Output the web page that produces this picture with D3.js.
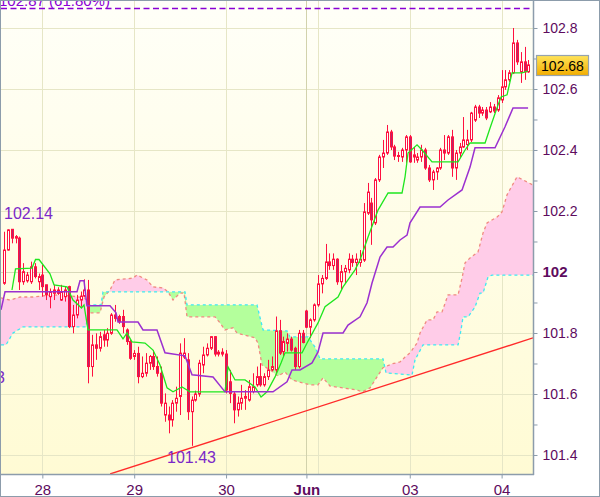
<!DOCTYPE html>
<html><head><meta charset="utf-8">
<script src="https://cdn.jsdelivr.net/npm/d3@7"></script>
<style>body{margin:0;background:#fff}svg{display:block;font-family:"Liberation Sans",Arial,sans-serif}</style>
</head><body><svg id="c" width="600" height="497"></svg>
<script>
// ---- data (hourly candles, bar index 0..137) ----
const opens = [101.963,102.072,102.140,102.111,102.111,101.968,101.971,101.968,102.017,101.968,101.990,101.958,101.919,101.930,101.941,101.908,101.919,101.952,101.821,101.859,101.908,101.921,101.941,101.690,101.761,101.750,101.794,101.777,101.799,101.859,101.854,101.854,101.810,101.772,101.723,101.733,101.657,101.668,101.701,101.723,101.690,101.668,101.531,101.531,101.515,101.570,101.592,101.721,101.712,101.542,101.580,101.600,101.695,101.728,101.750,101.788,101.731,101.737,101.731,101.640,101.600,101.548,101.570,101.586,101.580,101.608,101.630,101.657,101.630,101.657,101.679,101.679,101.807,101.739,101.766,101.780,101.750,101.690,101.799,101.872,101.819,101.843,101.892,101.961,101.979,102.033,102.021,102.042,101.968,102.001,102.007,102.042,102.031,102.031,102.039,102.193,102.226,102.161,102.302,102.377,102.390,102.459,102.410,102.382,102.377,102.400,102.443,102.377,102.367,102.377,102.400,102.341,102.302,102.328,102.341,102.400,102.390,102.443,102.341,102.390,102.410,102.418,102.433,102.498,102.541,102.521,102.531,102.525,102.541,102.531,102.564,102.607,102.630,102.653,102.751,102.656,102.689,102.656];
const highs = [102.132,102.140,102.140,102.121,102.116,102.029,102.000,102.034,102.029,101.995,102.023,101.958,101.946,101.958,101.950,101.958,101.952,101.955,101.892,101.925,101.936,101.976,101.974,101.794,101.799,101.804,101.810,101.816,101.865,101.892,101.860,101.876,101.815,101.777,101.744,101.755,101.723,101.734,101.728,101.744,101.723,101.690,101.602,101.559,101.580,101.624,101.766,101.783,101.734,101.592,101.611,101.712,101.755,101.766,101.790,101.790,101.744,101.750,101.744,101.679,101.608,101.592,101.630,101.613,101.646,101.668,101.690,101.701,101.668,101.712,101.723,101.854,101.843,101.788,101.799,101.788,101.755,101.810,101.810,101.876,101.848,101.897,101.990,101.990,102.092,102.061,102.061,102.045,102.023,102.023,102.061,102.056,102.061,102.072,102.226,102.292,102.243,102.308,102.384,102.433,102.482,102.466,102.417,102.394,102.407,102.449,102.449,102.410,102.390,102.417,102.407,102.351,102.335,102.344,102.407,102.449,102.449,102.466,102.400,102.423,102.508,102.466,102.525,102.548,102.548,102.541,102.541,102.557,102.551,102.580,102.662,102.662,102.662,102.800,102.761,102.721,102.738,102.695];
const lows = [101.958,102.070,102.094,102.094,101.941,101.958,101.965,101.961,101.979,101.941,101.919,101.908,101.881,101.908,101.925,101.905,101.903,101.816,101.799,101.848,101.886,101.918,101.635,101.657,101.712,101.739,101.755,101.755,101.794,101.837,101.830,101.799,101.761,101.712,101.712,101.635,101.652,101.657,101.679,101.679,101.657,101.559,101.509,101.471,101.493,101.542,101.531,101.715,101.515,101.430,101.575,101.591,101.668,101.723,101.744,101.723,101.723,101.723,101.602,101.570,101.504,101.526,101.548,101.548,101.575,101.602,101.624,101.624,101.624,101.646,101.675,101.668,101.728,101.723,101.739,101.739,101.679,101.684,101.766,101.816,101.783,101.837,101.886,101.930,101.974,102.007,102.007,101.958,101.941,101.963,101.996,102.017,101.990,102.017,102.033,102.187,102.089,102.154,102.295,102.341,102.384,102.400,102.367,102.361,102.361,102.358,102.358,102.358,102.358,102.361,102.335,102.295,102.269,102.302,102.335,102.367,102.384,102.312,102.302,102.374,102.407,102.400,102.426,102.492,102.505,102.512,102.498,102.521,102.521,102.525,102.554,102.597,102.623,102.649,102.679,102.620,102.630,102.653];
const closes = [102.072,102.138,102.111,102.116,101.968,102.001,101.990,102.017,101.985,101.985,101.952,101.925,101.935,101.941,101.930,101.935,101.941,101.821,101.859,101.908,101.921,101.941,101.690,101.761,101.750,101.788,101.777,101.799,101.859,101.848,101.837,101.821,101.772,101.717,101.733,101.657,101.668,101.701,101.723,101.690,101.668,101.570,101.570,101.515,101.570,101.586,101.734,101.734,101.542,101.580,101.600,101.701,101.728,101.750,101.788,101.731,101.737,101.731,101.613,101.602,101.548,101.570,101.586,101.592,101.624,101.624,101.657,101.630,101.657,101.679,101.690,101.807,101.734,101.772,101.780,101.744,101.690,101.799,101.769,101.819,101.843,101.892,101.961,101.979,102.033,102.021,102.042,101.968,102.001,102.012,102.042,102.031,102.042,102.042,102.197,102.262,102.171,102.302,102.377,102.390,102.459,102.410,102.380,102.380,102.400,102.443,102.361,102.384,102.377,102.400,102.341,102.302,102.328,102.341,102.400,102.390,102.443,102.341,102.390,102.410,102.433,102.433,102.521,102.541,102.521,102.531,102.505,102.541,102.528,102.571,102.607,102.630,102.653,102.751,102.689,102.689,102.656,102.679];

// Ichimoku lines read as [bar index, value] vertices
const tenkan = [[2.07,101.941],[2.99,102.010],[7.30,102.013],[8.22,102.041],[9.13,102.041],[12.0,101.994],[13.05,101.958],[16.45,101.951],[18.01,101.908],[20.24,101.882],[20.89,101.892],[21.93,101.810],[29.51,101.810],[31.08,101.781],[32.12,101.800],[33.43,101.771],[36.83,101.767],[38.92,101.744],[40.75,101.695],[42.58,101.620],[44.14,101.607],[46.50,101.623],[47.80,101.613],[48.59,101.607],[57.73,101.607],[58.52,101.689],[60.35,101.646],[62.96,101.646],[65.57,101.623],[67.14,101.590],[68.71,101.607],[70.80,101.656],[72.36,101.702],[73.41,101.735],[77.85,101.735],[79.16,101.767],[82.03,101.833],[83.86,101.886],[87.26,101.918],[88.57,101.951],[91.70,102.007],[93.01,102.039],[95.10,102.115],[97.71,102.203],[100.33,102.259],[103.98,102.259],[104.77,102.312],[105.55,102.390],[107.90,102.417],[109.21,102.400],[111.82,102.361],[118.62,102.361],[120.45,102.400],[121.75,102.423],[125.67,102.423],[126.98,102.472],[129.07,102.548],[129.85,102.574],[131.42,102.581],[132.72,102.653],[135.34,102.653],[136.91,102.659]];
const kijun = [[-0.8,101.876],[0.25,101.935],[19.06,101.935],[19.84,101.971],[20.89,101.971],[21.67,101.889],[27.68,101.889],[29.25,101.866],[29.77,101.836],[35.00,101.836],[36.30,101.810],[39.96,101.810],[42.05,101.735],[47.28,101.725],[49.11,101.663],[54.60,101.656],[57.73,101.607],[70.27,101.607],[73.93,101.640],[75.24,101.679],[77.33,101.679],[80.47,101.702],[82.03,101.738],[83.34,101.800],[88.57,101.800],[89.87,101.826],[93.01,101.853],[94.84,101.899],[96.14,101.964],[98.23,102.049],[100.06,102.082],[101.63,102.082],[103.46,102.105],[105.29,102.121],[106.07,102.161],[108.69,102.213],[113.91,102.213],[116.00,102.236],[119.66,102.269],[121.75,102.344],[123.05,102.407],[128.28,102.407],[130.89,102.476],[132.98,102.538],[136.91,102.538]];
const spanA = [[-0.8,101.915],[1.55,101.908],[4.17,101.918],[7.56,101.918],[12.79,101.925],[17.23,101.922],[21.15,101.915],[22.20,101.866],[25.07,101.866],[26.11,101.918],[27.68,101.941],[28.99,101.974],[33.69,101.980],[34.74,101.990],[37.35,101.974],[38.92,101.951],[41.53,101.948],[42.84,101.935],[44.14,101.908],[45.97,101.931],[47.02,101.931],[47.80,101.853],[55.12,101.853],[56.43,101.833],[57.73,101.810],[59.82,101.817],[60.87,101.800],[65.57,101.784],[66.35,101.767],[67.40,101.695],[69.49,101.679],[71.58,101.659],[73.41,101.672],[75.24,101.646],[79.94,101.630],[82.03,101.630],[83.34,101.653],[85.17,101.626],[88.57,101.620],[92.22,101.613],[93.53,101.607],[95.62,101.620],[97.45,101.656],[99.02,101.686],[101.37,101.699],[103.46,101.705],[104.77,101.721],[106.07,101.735],[107.90,101.767],[108.69,101.800],[110.52,101.843],[112.08,101.843],[113.13,101.869],[114.43,101.869],[116.00,101.925],[118.62,101.925],[119.66,101.980],[120.45,102.030],[121.75,102.046],[123.84,102.066],[125.15,102.128],[126.19,102.161],[128.81,102.180],[130.11,102.197],[131.42,102.253],[134.03,102.312],[135.60,102.302],[139.0,102.280]];
const spanB = [[-0.8,101.761],[0.51,101.761],[2.34,101.800],[4.95,101.820],[21.41,101.820],[22.20,101.892],[25.33,101.892],[25.85,101.935],[47.28,101.935],[47.80,101.892],[66.09,101.892],[67.66,101.810],[73.93,101.807],[74.72,101.787],[79.42,101.787],[81.25,101.754],[82.55,101.715],[99.02,101.715],[99.80,101.669],[106.59,101.662],[107.38,101.712],[109.47,101.761],[118.62,101.761],[119.40,101.810],[119.92,101.853],[121.23,101.853],[123.05,101.885],[124.36,101.931],[125.15,101.931],[126.45,101.984],[127.50,101.990],[139.0,101.990]];
const trendLine = [[27.7,101.338],[138.2,101.784]];
const fibLevel = 102.866;
const lastPrice = 102.68;
const yTicks = [101.4,101.6,101.8,102,102.2,102.4,102.6,102.8];
const yMinor = [101.5,101.7,101.9,102.1,102.3,102.5,102.7];
const xTickBars = [10,34,58,79,106,130];
const xTickLabels = ["28","29","30","Jun","03","04"];
const xGridBars = [10,34,58,79,82,106,130];

// ---- layout ----
const L=1,R=533,T=1,B=474;
const svg = d3.select("#c");
const x = d3.scaleLinear().domain([-0.8,138.2]).range([L,R]);
const y = d3.scaleLinear().domain([101.3377,102.8885]).range([B,T]);

const defs = svg.append("defs");
const g1 = defs.append("linearGradient").attr("id","bg").attr("x1",0).attr("y1",0).attr("x2",0).attr("y2",1);
g1.append("stop").attr("offset","0").attr("stop-color","#fffff8");
g1.append("stop").attr("offset","1").attr("stop-color","#fffbd4");
const g2 = defs.append("linearGradient").attr("id","gold").attr("x1",0).attr("y1",0).attr("x2",0).attr("y2",1);
g2.append("stop").attr("offset","0").attr("stop-color","#ffe45a");
g2.append("stop").attr("offset","1").attr("stop-color","#f2ad00");
defs.append("clipPath").attr("id","plot").append("rect").attr("x",L).attr("y",T).attr("width",R-L).attr("height",B-T);

defs.append("clipPath").attr("id","aboveB").append("path").attr("d", d3.area().x(d=>x(d[0])).y1(d=>y(d[1])).y0(0)(spanB));
defs.append("clipPath").attr("id","belowB").append("path").attr("d", d3.area().x(d=>x(d[0])).y1(d=>y(d[1])).y0(600)(spanB));

svg.append("rect").attr("width",600).attr("height",497).attr("fill","#fff");
svg.append("rect").attr("x",L).attr("y",T).attr("width",R-L).attr("height",B-T).attr("fill","url(#bg)");

const plot = svg.append("g").attr("clip-path","url(#plot)");

// grid
plot.selectAll(".hg").data(yTicks).join("line")
  .attr("x1",L).attr("x2",R).attr("y1",d=>Math.round(y(d))+0.5).attr("y2",d=>Math.round(y(d))+0.5)
  .attr("stroke",d=>d===102?"#d8d8b8":"#e6e6c6").attr("stroke-width",1);
plot.selectAll(".vg").data(xGridBars).join("line")
  .attr("y1",T).attr("y2",B).attr("x1",d=>Math.round(x(d))+0.5).attr("x2",d=>Math.round(x(d))+0.5)
  .attr("stroke",d=>d===79?"#d2d2ac":"#e6e6c6").attr("stroke-width",1);

// cloud
const line = d3.line().x(d=>x(d[0])).y(d=>y(d[1]));
const band = line(spanA.concat(spanB.slice().reverse())) + "Z";
plot.append("g").attr("clip-path","url(#aboveB)").append("path").attr("d",band).attr("fill","#ffcce8");
plot.append("g").attr("clip-path","url(#belowB)").append("path").attr("d",band).attr("fill","#b4ff9c");
plot.append("path").attr("d",line(spanA)).attr("fill","none").attr("stroke","#f08a80").attr("stroke-width",1.3).attr("stroke-dasharray","3,3");
plot.append("path").attr("d",line(spanB)).attr("fill","none").attr("stroke","#3ee8f4").attr("stroke-width",1.3).attr("stroke-dasharray","3,3");

// trend line
plot.append("path").attr("d",line(trendLine)).attr("stroke","#ff2a2a").attr("stroke-width",1.4).attr("fill","none");

// fib level
plot.append("line").attr("x1",L).attr("x2",R).attr("y1",Math.round(y(fibLevel))+0.5).attr("y2",Math.round(y(fibLevel))+0.5)
  .attr("stroke","#8a00d4").attr("stroke-width",1.3).attr("stroke-dasharray","6,3.5");

// candles
const idx = d3.range(opens.length);
const cg = plot.append("g");
cg.selectAll(".w").data(idx).join("line")
  .attr("x1",i=>Math.round(x(i))+0.5).attr("x2",i=>Math.round(x(i))+0.5)
  .attr("y1",i=>y(highs[i])).attr("y2",i=>y(lows[i]))
  .attr("stroke","#ff1040").attr("stroke-width",1);
cg.selectAll(".b").data(idx).join("rect")
  .attr("x",i=>Math.round(x(i))-0.5).attr("width",2)
  .attr("y",i=>y(Math.max(opens[i],closes[i])))
  .attr("height",i=>Math.max(1,Math.abs(y(opens[i])-y(closes[i]))))
  .attr("fill",i=>closes[i]>=opens[i]?"#ffffff":"#b8246a")
  .attr("stroke","#ff1040").attr("stroke-width",1);

// indicator lines
plot.append("path").attr("d",line(tenkan)).attr("fill","none").attr("stroke","#1ee61e").attr("stroke-width",1.3);
plot.append("path").attr("d",line(kijun)).attr("fill","none").attr("stroke","#9b30d0").attr("stroke-width",1.5);

// labels inside plot
plot.append("text").attr("x",-1).attr("y",5.5).attr("font-size",15).attr("fill","#8a00d4").text("102.87 (61.80%)");
plot.append("text").attr("x",4).attr("y",219).attr("font-size",16).attr("fill","#7b28c8").text("102.14");
plot.append("text").attr("x",167).attr("y",463).attr("font-size",16).attr("fill","#7b28c8").text("101.43");
plot.append("text").attr("x",5).attr("y",383).attr("text-anchor","end").attr("font-size",16).attr("fill","#7b28c8").text("101.63");

// axes
const axisColor = "#8c9cab";
const yAxis = svg.append("g").attr("transform",`translate(${R+0.5},0)`)
  .call(d3.axisRight(y).tickValues(yTicks.concat(yMinor)).tickSize(4).tickPadding(5)
    .tickFormat(d=>yTicks.some(t=>Math.abs(t-d)<1e-9)?d3.format("")(+d.toFixed(1)):""));
yAxis.select(".domain").remove();
yAxis.selectAll("line").attr("stroke",axisColor);
yAxis.selectAll("text").attr("font-size",14).attr("fill","#5e0b5e").attr("font-family","Liberation Sans, Arial, sans-serif")
  .filter(d=>d===102).attr("font-weight","bold").attr("font-size",15);

const xAxis = svg.append("g").attr("transform",`translate(0,${B+0.5})`)
  .call(d3.axisBottom(x).tickValues(xTickBars).tickSize(4).tickPadding(6).tickFormat((d,i)=>xTickLabels[i]));
xAxis.select(".domain").remove();
xAxis.selectAll("line").attr("stroke",axisColor);
xAxis.selectAll("text").attr("font-size",15).attr("fill","#5e0b5e").attr("font-family","Liberation Sans, Arial, sans-serif")
  .filter((d,i)=>xTickLabels[i]==="Jun").attr("font-weight","bold");

svg.append("line").attr("x1",R+0.5).attr("x2",R+0.5).attr("y1",0).attr("y2",B+1).attr("stroke",axisColor).attr("stroke-width",1.5);
svg.append("line").attr("x1",0).attr("x2",R+1).attr("y1",B+0.5).attr("y2",B+0.5).attr("stroke",axisColor).attr("stroke-width",1.5);
svg.append("rect").attr("x",0.5).attr("y",0.5).attr("width",599).attr("height",496).attr("fill","none").attr("stroke",axisColor).attr("stroke-width",1);

// last price box
const pg = svg.append("g");
pg.append("rect").attr("x",536.5).attr("y",Math.round(y(lastPrice))-9.5).attr("width",52).attr("height",20)
  .attr("fill","url(#gold)").attr("stroke","#96a3ae").attr("stroke-width",1.2);
pg.append("text").attr("x",562.5).attr("y",Math.round(y(lastPrice))+5.5).attr("text-anchor","middle")
  .attr("font-size",14).attr("fill","#000").text(d3.format(".2f")(lastPrice));
</script></body></html>
